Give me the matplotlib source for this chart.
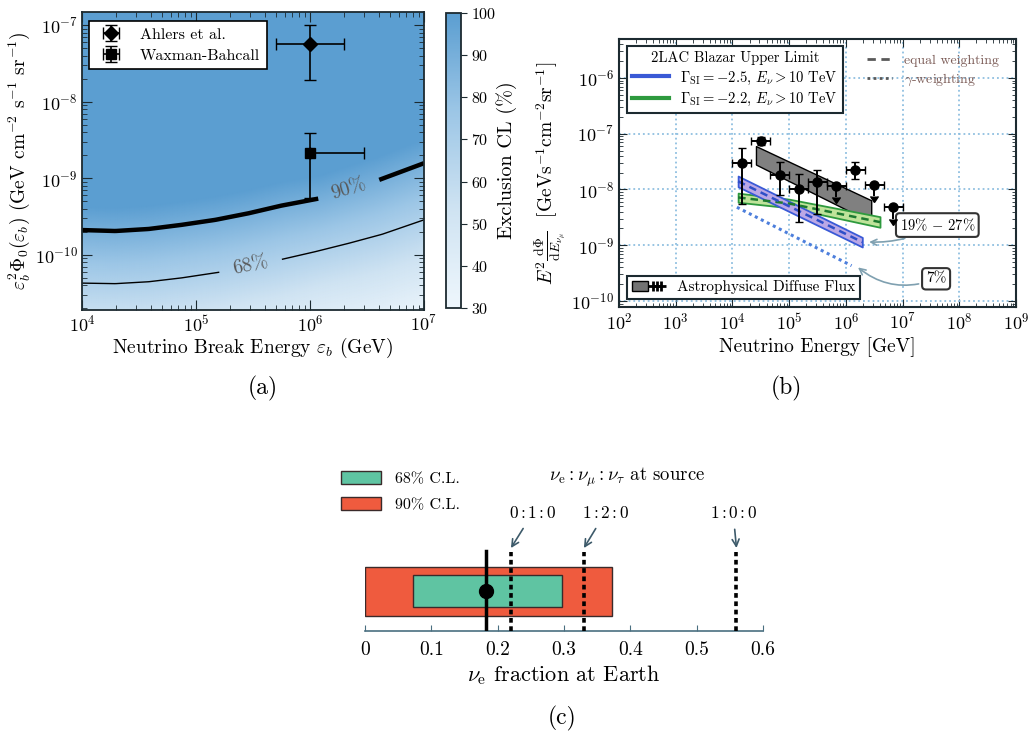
import numpy as np
import matplotlib
matplotlib.use('Agg')
import matplotlib.pyplot as plt
from matplotlib.colors import LinearSegmentedColormap
from matplotlib.patches import Patch
from matplotlib.lines import Line2D
from matplotlib.legend_handler import HandlerTuple

plt.rcParams['font.family'] = ['cmr10', 'DejaVu Serif']
plt.rcParams['mathtext.fontset'] = 'cm'
plt.rcParams['axes.formatter.use_mathtext'] = True

# ---------------- data: panel (a) ----------------
c90_E = [1e4, 1.96e4, 3.85e4, 7.5e4, 1.48e5, 2.9e5, 5.6e5, 1.23e6, 3.7e6, 1e7]
c90_F = [2.11e-10, 2.05e-10, 2.18e-10, 2.47e-10, 2.87e-10, 3.5e-10, 4.4e-10,
         5.5e-10, 9.1e-10, 1.58e-9]
c68_E = [1e4, 1.96e4, 3.85e4, 7.5e4, 1.69e5, 5.6e5, 1.11e6, 2.2e6, 4.3e6, 1e7]
c68_F = [4.27e-11, 4.2e-11, 4.45e-11, 5.0e-11, 6.0e-11, 8.7e-11, 1.1e-10,
         1.42e-10, 1.86e-10, 2.87e-10]
cl_levels = [68, 90]
ahlers_E, ahlers_Elo, ahlers_Ehi = [1e6], [5e5], [2e6]
ahlers_F, ahlers_Flo, ahlers_Fhi = [5.8e-8], [1.95e-8], [1.0e-7]
wb_E, wb_Elo, wb_Ehi = [1e6], [1e6], [3e6]
wb_F, wb_Flo, wb_Fhi = [2.15e-9], [5.5e-10], [3.9e-9]
cbar_ticks = [30, 40, 50, 60, 70, 80, 90, 100]

# ---------------- data: panel (b) ----------------
diff_E = [1.47e4, 3.16e4, 6.8e4, 1.47e5, 3.16e5, 6.8e5, 1.47e6, 3.16e6, 6.8e6]
diff_Elo = [1.0e4, 2.15e4, 4.64e4, 1.0e5, 2.15e5, 4.64e5, 1.0e6, 2.15e6, 4.64e6]
diff_Ehi = [2.15e4, 4.64e4, 1.0e5, 2.15e5, 4.64e5, 1.0e6, 2.15e6, 4.64e6, 1.0e7]
diff_F = [3.0e-8, 7.4e-8, 1.8e-8, 1.04e-8, 1.38e-8, 1.15e-8, 2.2e-8, 1.2e-8, 4.8e-9]
diff_Flo = [5.5e-9, 6.2e-8, 7.8e-9, 2.6e-9, 3.7e-9, 7.2e-9, 1.55e-8, 7.5e-9, 3.0e-9]
diff_Fhi = [5.6e-8, 8.9e-8, 3.1e-8, 1.9e-8, 2.2e-8, 1.15e-8, 3.1e-8, 1.2e-8, 4.8e-9]
diff_ul = [False, False, False, False, False, True, False, True, True]

gray_E = [2.6e4, 2.8e6]
gray_lo = [2.8e-8, 2.6e-9]
gray_hi = [6.0e-8, 6.4e-9]

blue_E = [1.26e4, 1.95e6]
blue_lo = [1.12e-8, 9.3e-10]
blue_hi = [1.74e-8, 1.38e-9]
blue_mid = [1.4e-8, 1.14e-9]

green_E = [1.26e4, 1e5, 4e6]
green_lo = [5.9e-9, 4.7e-9, 2.1e-9]
green_hi = [8.6e-9, 6.7e-9, 3.25e-9]
green_mid = [7.2e-9, 5.6e-9, 2.6e-9]

gamma_E = [1.2e4, 1.26e6]
gamma_F = [4.8e-9, 4.3e-10]

# ---------------- data: panel (c) ----------------
cl90_lo, cl90_hi = 0.0, 0.373
cl68_lo, cl68_hi = 0.072, 0.297
best_fit = 0.182
source_labels = [r'0$\,$:$\,$1$\,$:$\,$0', r'1$\,$:$\,$2$\,$:$\,$0', r'1$\,$:$\,$0$\,$:$\,$0']
source_fracs = [0.22, 0.33, 0.56]
c_ticks = [0, 0.1, 0.2, 0.3, 0.4, 0.5, 0.6]
c_ticklabels = ['0', '0.1', '0.2', '0.3', '0.4', '0.5', '0.6']

# ---------------- figure ----------------
W, H = 1031, 731
fig = plt.figure(figsize=(W / 100, H / 100), dpi=100)


def box(l, t, r, b):
    return [l / W, 1 - b / H, (r - l) / W, (b - t) / H]


axA = fig.add_axes(box(82, 12, 424, 310))
caxA = fig.add_axes(box(446, 13, 461, 308))
axB = fig.add_axes(box(619, 39, 1016, 307))
axC = fig.add_axes(box(365, 460, 763, 631))

spine_col = '#1c2a30'

# ----- panel (a)
cmap = LinearSegmentedColormap.from_list(
    'cl', ['#eef6fc', '#cfe3f2', '#9cc6e6', '#5b9ed1'])
lgE = np.linspace(4, 7, 200)
lgF = np.linspace(np.log10(1.9e-11), np.log10(1.5e-7), 300)
l68 = np.interp(lgE, np.log10(c68_E), np.log10(c68_F))
l90 = np.interp(lgE, np.log10(c90_E), np.log10(c90_F))
T = (lgF[:, None] - l68[None, :]) / (l90 - l68)[None, :]
Z = np.clip(cl_levels[0] + (cl_levels[1] - cl_levels[0]) * T, 30, 100)
EE, FF = np.meshgrid(10 ** lgE, 10 ** lgF)
axA.set_xscale('log')
axA.set_yscale('log')
mesh = axA.pcolormesh(EE, FF, Z, cmap=cmap, vmin=30, vmax=100,
                      shading='gouraud', rasterized=True)
cs = axA.contour(EE, FF, Z, levels=cl_levels, colors='k', linewidths=[1.0, 3.2])
axA.clabel(cs, fmt={68: '68%', 90: '90%'}, inline=True, inline_spacing=14,
           fontsize=14, colors='0.35', manual=[(3.0e5, 7.4e-11), (2.2e6, 7.0e-10)])

axA.errorbar(ahlers_E, ahlers_F,
             xerr=[np.subtract(ahlers_E, ahlers_Elo), np.subtract(ahlers_Ehi, ahlers_E)],
             yerr=[np.subtract(ahlers_F, ahlers_Flo), np.subtract(ahlers_Fhi, ahlers_F)],
             fmt='D', color='k', ms=7, capsize=4, lw=1.2, label='Ahlers et al.')
axA.errorbar(wb_E, wb_F,
             xerr=[np.subtract(wb_E, wb_Elo), np.subtract(wb_Ehi, wb_E)],
             yerr=[np.subtract(wb_F, wb_Flo), np.subtract(wb_Fhi, wb_F)],
             fmt='s', color='k', ms=7, capsize=4, lw=1.2, label='Waxman-Bahcall')
axA.set_xlim(1e4, 1e7)
axA.set_ylim(1.9e-11, 1.5e-7)
legA = axA.legend(loc='upper left', bbox_to_anchor=(7 / 342, 1 - 9 / 298),
                  borderaxespad=0, fancybox=False, edgecolor='k', framealpha=1,
                  fontsize=11.5, handlelength=2.0, labelspacing=0.45,
                  borderpad=0.4, handletextpad=0.8)
legA.get_frame().set_linewidth(1.2)
axA.tick_params(which='both', direction='in', top=True, right=True,
                labelsize=13, color=spine_col, pad=3)
axA.tick_params(which='major', length=7)
axA.tick_params(which='minor', length=3.5)
for s in axA.spines.values():
    s.set_color(spine_col)
    s.set_linewidth(1.3)
axA.set_xlabel(r'Neutrino Break Energy $\varepsilon_b$ (GeV)', fontsize=14, labelpad=1)
axA.set_ylabel(r'$\varepsilon_b^2\Phi_0(\varepsilon_b)$ (GeV cm$^{-2}$ s$^{-1}$ sr$^{-1}$)',
               fontsize=14, labelpad=2)

cb = fig.colorbar(mesh, cax=caxA, ticks=cbar_ticks)
caxA.tick_params(labelsize=11.5, length=4, color=spine_col, pad=3)
cb.set_label('Exclusion CL (%)', fontsize=14.5, labelpad=0)
cb.outline.set_edgecolor(spine_col)
cb.outline.set_linewidth(1.3)

# ----- panel (b)
axB.set_xscale('log')
axB.set_yscale('log')
axB.set_xlim(1e2, 1e9)
axB.set_ylim(7.8e-11, 5e-6)
axB.grid(True, which='major', ls=':', color='#8fbfe0', lw=1.3)
axB.set_axisbelow(True)
axB.set_xticks([10.0 ** k for k in range(2, 10)])
axB.set_yticks([10.0 ** k for k in range(-10, -5)])

axB.fill_between(gray_E, gray_lo, gray_hi, fc='0.5', ec='k', lw=1.0, zorder=3)
axB.fill_between(green_E, green_lo, green_hi, fc='#bfe39a', ec='#2e9a3e', lw=1.3, zorder=4)
axB.plot(green_E, green_mid, ls=(0, (3, 2)), color='#1d7a30', lw=1.8, zorder=5)
axB.fill_between(blue_E, blue_lo, blue_hi, fc='#bba8e6', ec='#3a5ad6', lw=1.3, zorder=4)
axB.plot(blue_E, blue_mid, ls=(0, (3, 2)), color='#2f4fc8', lw=1.8, zorder=5)
axB.plot(gamma_E, gamma_F, ls=(0, (1, 1.2)), color='#4d7fdc', lw=2.2, zorder=4)

dE = np.array(diff_E)
dF = np.array(diff_F)
ul = np.array(diff_ul)
xerr = np.vstack([dE - np.array(diff_Elo), np.array(diff_Ehi) - dE])
yerr = np.vstack([dF - np.array(diff_Flo), np.array(diff_Fhi) - dF])
axB.errorbar(dE[~ul], dF[~ul], xerr=xerr[:, ~ul], yerr=yerr[:, ~ul], fmt='o',
             color='k', ms=6.5, capsize=3, lw=1.4, zorder=6)
axB.errorbar(dE[ul], dF[ul], xerr=xerr[:, ul], yerr=yerr[:, ul], uplims=True,
             fmt='o', color='k', ms=6.5, capsize=3, lw=1.4, zorder=6)

axB.tick_params(which='both', direction='in', top=True, right=True,
                labelsize=13, color=spine_col)
axB.tick_params(which='major', length=6)
axB.tick_params(which='minor', length=3)
for s in axB.spines.values():
    s.set_color(spine_col)
    s.set_linewidth(1.5)
axB.set_xlabel('Neutrino Energy [GeV]', fontsize=14, labelpad=3)
axB.set_ylabel(r'$E^2\frac{\mathrm{d}\Phi}{\mathrm{d}E_{\nu_\mu}}$  [GeVs$^{-1}$cm$^{-2}$sr$^{-1}$]',
               fontsize=14, labelpad=2)

leg1 = axB.legend(handles=[Line2D([], [], color='#3a5ad6', lw=3),
                           Line2D([], [], color='#2e9a3e', lw=3)],
                  labels=[r'$\Gamma_{\mathrm{SI}} = -2.5$, $E_\nu > 10$ TeV',
                          r'$\Gamma_{\mathrm{SI}} = -2.2$, $E_\nu > 10$ TeV'],
                  title='2LAC Blazar Upper Limit', title_fontsize=10.5, fontsize=10.5,
                  loc='upper left', bbox_to_anchor=(8 / 397, 1 - 7 / 268),
                  borderaxespad=0, fancybox=False, edgecolor=spine_col,
                  framealpha=1, handlelength=2.5, labelspacing=0.3,
                  borderpad=0.35, handletextpad=0.8)
leg1.get_frame().set_linewidth(1.5)
axB.add_artist(leg1)

leg2 = axB.legend(handles=[Line2D([], [], color='0.35', lw=2, ls=(0, (3, 2))),
                           Line2D([], [], color='0.35', lw=2, ls=(0, (1, 1.2)))],
                  labels=['equal weighting', r'$\gamma$-weighting'],
                  fontsize=10, frameon=False, loc='upper right',
                  bbox_to_anchor=(1 - 12 / 397, 1 - 10 / 268), borderaxespad=0,
                  handlelength=1.8, labelspacing=0.3, labelcolor='#7a5a55')
axB.add_artist(leg2)

diff_handle = (Patch(fc='0.45', ec='k'),
               Line2D([], [], ls='none', marker='+', ms=7, mew=2, color='k'))
leg3 = axB.legend(handles=[diff_handle], labels=['Astrophysical Diffuse Flux'],
                  handler_map={tuple: HandlerTuple(ndivide=None, pad=0)},
                  numpoints=3, fontsize=11, loc='lower left',
                  bbox_to_anchor=(8 / 397, 8 / 268), borderaxespad=0,
                  fancybox=False, edgecolor=spine_col, framealpha=1,
                  handlelength=2.2, borderpad=0.3)
leg3.get_frame().set_linewidth(1.5)

box_kw = dict(boxstyle='round,pad=0.25', fc='white', ec='#333333', lw=1.5)
axB.annotate(r'19%$\,-\,$27%', xy=(2.3e6, 1.15e-9), xytext=(4.1e7, 2.3e-9),
             ha='center', va='center', fontsize=10.5, bbox=box_kw,
             arrowprops=dict(arrowstyle='->', color='#7fa0b0', lw=1.2,
                             connectionstyle='arc3,rad=-0.15', shrinkB=2))
axB.annotate('7%', xy=(1.5e6, 4.3e-10), xytext=(3.9e7, 2.5e-10),
             ha='center', va='center', fontsize=11, bbox=box_kw,
             arrowprops=dict(arrowstyle='->', color='#7fa0b0', lw=1.2,
                             connectionstyle='arc3,rad=-0.3', shrinkB=2))

# ----- panel (c)
red = '#ef5b3e'
teal = '#5fc4a2'
axC.set_xlim(0, 0.6)
axC.set_ylim(0, 1)
for s in ['left', 'right', 'top']:
    axC.spines[s].set_visible(False)
axC.spines['bottom'].set_color('#4a6f80')
axC.spines['bottom'].set_linewidth(1.2)
axC.set_yticks([])
axC.set_xticks(c_ticks)
axC.set_xticklabels(c_ticklabels)
axC.tick_params(axis='x', direction='in', length=4, color='#4a6f80',
                labelsize=14, pad=7)
axC.barh(0.231, cl90_hi - cl90_lo, left=cl90_lo, height=0.286,
         color=red, ec='#3a2a2a', lw=1.0, zorder=2)
axC.barh(0.2335, cl68_hi - cl68_lo, left=cl68_lo, height=0.187,
         color=teal, ec='#3a2a2a', lw=1.0, zorder=3)
axC.axvline(best_fit, 0, 0.468, color='k', lw=2.5, zorder=5)
axC.plot([best_fit], [0.234], 'o', color='k', ms=10, zorder=6)
for xf in source_fracs:
    axC.axvline(xf, 0, 0.462, color='k', lw=2.6, ls=(0, (1.3, 1.0)), zorder=4)
label_pos = [0.253, 0.362, 0.555]
for lab, xf, xl in zip(source_labels, source_fracs, label_pos):
    axC.annotate(lab, xy=(xf, 0.485), xytext=(xl, 0.69), ha='center', va='center',
                 fontsize=12.5,
                 arrowprops=dict(arrowstyle='->', color='#3d5a6a', lw=1.2,
                                 shrinkA=4, shrinkB=0))
axC.text(0.395, 0.90, r'$\nu_\mathrm{e} : \nu_\mu : \nu_\tau$ at source',
         ha='center', va='center', fontsize=13.5)
axC.legend(handles=[Patch(fc=teal, ec='#3a2a2a'), Patch(fc=red, ec='#3a2a2a')],
           labels=['68% C.L.', '90% C.L.'], fontsize=11.5, frameon=False,
           loc='upper left', bbox_to_anchor=(341 / W, 1 - 471 / H),
           bbox_transform=fig.transFigure, borderaxespad=0, borderpad=0,
           handlelength=2.5, handleheight=0.85, handletextpad=0.9,
           labelspacing=0.7)
axC.set_xlabel(r'$\nu_\mathrm{e}$ fraction at Earth', fontsize=16, labelpad=3)

fig.text(263 / W, 1 - 388 / H, '(a)', ha='center', va='center', fontsize=17)
fig.text(786 / W, 1 - 388 / H, '(b)', ha='center', va='center', fontsize=17)
fig.text(562 / W, 1 - 718 / H, '(c)', ha='center', va='center', fontsize=17)

fig.savefig('out.png', dpi=100)
